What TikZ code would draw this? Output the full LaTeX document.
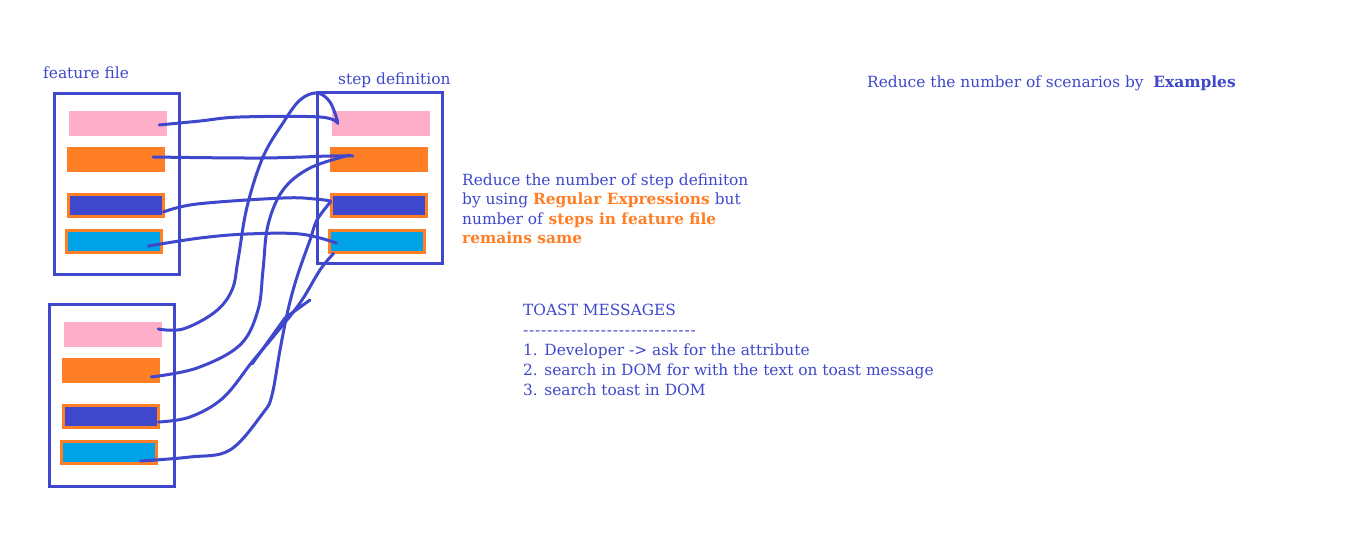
\documentclass[tikz,border=0pt]{standalone}
\usepackage{fontspec}
\setmainfont{DejaVu Serif}[Ligatures=TeXOff]
\usepackage{tikz}

\definecolor{paintblue}{RGB}{63,72,204}
\definecolor{paintorange}{RGB}{255,127,39}
\definecolor{paintpink}{RGB}{255,174,201}
\definecolor{paintcyan}{RGB}{0,162,232}

\tikzset{
  frame/.style={draw=paintblue, line width=3pt, minimum width=125pt, inner sep=0pt},
  bar/.style={minimum width=98pt, minimum height=25pt, inner sep=0pt},
  edgedbar/.style={draw=paintorange, line width=3pt, minimum width=95pt, minimum height=22pt, inner sep=0pt},
  wire/.style={draw=paintblue, line width=3pt, line cap=round, line join=round},
  label/.style={text=paintblue, inner sep=0pt, font=\fontsize{15.4}{19.6}\selectfont},
  hl/.style={text=paintorange}
}

\begin{document}
\begin{tikzpicture}[x=1pt, y=-1pt]
  \useasboundingbox (0,0) rectangle (1350,555);
  \fill[white] (0,0) rectangle (1350,555);
  % Draw feature file box
  \node[frame, minimum height=181pt] (ff) at (116.5,183.5) {};
  \node[label, anchor=base west] at (43,78) {feature file};
  \node[bar, fill=paintpink] (fa1) at (118,123.5) {};
  \node[bar, fill=paintorange] (fa2) at (116,159.5) {};
  \node[edgedbar, fill=paintblue] (fa3) at (116,205.5) {};
  \node[edgedbar, fill=paintcyan] (fa4) at (114,241) {};
  % Draw step definition box
  \node[frame, minimum height=171pt] (sd) at (379.5,177.5) {};
  \node[label, anchor=base west] at (338,84) {step definition};
  \node[bar, fill=paintpink] (sa1) at (381,123.5) {};
  \node[bar, fill=paintorange] (sa2) at (379,159.5) {};
  \node[edgedbar, fill=paintblue] (sa3) at (379,205.5) {};
  \node[edgedbar, fill=paintcyan] (sa4) at (377,241) {};
  % Draw second feature file box
  \node[frame, minimum height=182pt] (fx) at (111.5,395) {};
  \node[bar, fill=paintpink] (fb1) at (113,334.5) {};
  \node[bar, fill=paintorange] (fb2) at (111,370.5) {};
  \node[edgedbar, fill=paintblue] (fb3) at (111,416.5) {};
  \node[edgedbar, fill=paintcyan] (fb4) at (109,452.5) {};
  % Wires from first box
  \draw[wire] plot[smooth, tension=0.6] coordinates {([shift={(-8,1.5)}]fa1.east) (200,121) (240,117) (320,117) ([shift={(6,0)}]sa1.west)};
  \draw[wire] plot[smooth, tension=0.6] coordinates {([shift={(-12,-2.5)}]fa2.east) (260,158) (330,156) ([shift={(23,-3.5)}]sa2.west)};
  \draw[wire] plot[smooth, tension=0.6] coordinates {([shift={(-1.5,6.5)}]fa3.east) (197,204) (283,198) (315,199) ([shift={(0.5,-4.5)}]sa3.west)};
  \draw[wire] plot[smooth, tension=0.6] coordinates {([shift={(-14.5,5)}]fa4.east) (200,238) (247,234) (300,234) ([shift={(8.5,2)}]sa4.west)};
  % Wires from second box
  \draw[wire] plot[smooth, tension=0.6] coordinates {([shift={(-4,-5.5)}]fb1.east) (183,329) (215,312) (232,290) (238,260) (247,207) (263,157) (283,123) (300,100) (317,93) (330,102) ([shift={(6,-1.5)}]sa1.west)};
  \draw[wire] plot[smooth, tension=0.6] coordinates {([shift={(-9,6.5)}]fb2.east) (197,368) (240,345) (258,310) (263,270) (268,225) (283,190) (310,168) ([shift={(20,-4.5)}]sa2.west)};
  \draw[wire] plot[smooth, tension=0.6] coordinates {([shift={(-1.5,5.5)}]fb3.east) (190,417) (223,398) (252,362) (273,337) (300,303) (320,270) ([shift={(5.5,0)}]sa4.south west)};
  \draw[wire] plot[smooth, tension=0.6] coordinates {([shift={(-17.5,8.5)}]fb4.east) (190,457) (230,450) (263,413) (272,395) (280,350) (288,310) (297,277) (310,240) (317,220) ([shift={(0.5,-3.5)}]sa3.west)};
  \draw[wire] (252,364) -- (285,318) -- (310,300);
  % Notes
  \node[label, anchor=north west, align=left] at (462,173.2) {Reduce the number of step definiton\\by using \textbf{\color{paintorange}Regular Expressions} but\\number of \textbf{\color{paintorange}steps in feature file}\\\textbf{\color{paintorange}remains same}};
  \node[label, anchor=north west, align=left, font=\fontsize{15.4}{20}\selectfont] at (523,303.7) {TOAST MESSAGES\\{\addfontfeature{LetterSpace=5}-----------------------------}\\1. Developer -> ask for the attribute\\2. search in DOM for with the text on toast message\\3. search toast in DOM};
  \node[label, anchor=base west] at (867,87) {Reduce the number of scenarios by\ \ \textbf{Examples}};
\end{tikzpicture}
\end{document}
